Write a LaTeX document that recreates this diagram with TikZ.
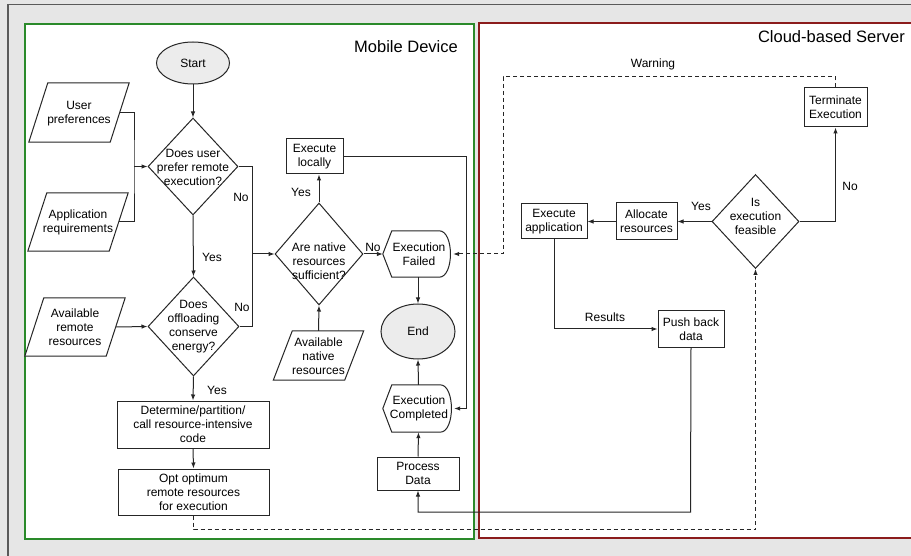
\documentclass[tikz,border=0pt]{standalone}
\usepackage{fontspec}
\setmainfont{Liberation Sans}
\usetikzlibrary{shapes.geometric,arrows.meta,calc}

\definecolor{panelgrey}{HTML}{E6E6E6}
\definecolor{framegrey}{HTML}{5A5A5A}
\definecolor{mobilegreen}{HTML}{2A8A2A}
\definecolor{serverred}{HTML}{8B1C1C}
\definecolor{ink}{HTML}{262626}
\definecolor{termfill}{HTML}{ECECEC}

\tikzset{
  txt/.style={font=\fontsize{12}{14}\selectfont, text=black, align=center, inner sep=0pt},
  boxnode/.style={txt, draw=ink, line width=1pt, fill=white},
  terminal/.style={txt, ellipse, draw=ink, line width=1pt, fill=termfill},
  decision/.style={diamond, draw=ink, line width=1pt, fill=white, inner sep=0pt},
  frame/.style={txt, inner sep=0pt},
  outline/.style={draw=ink, line width=1pt, fill=white},
  flow/.style={draw=ink, line width=1pt, -{Latex[length=6pt,width=4.5pt]}},
  link/.style={draw=ink, line width=1pt},
  lbl/.style={font=\fontsize{12}{14}\selectfont, text=black, inner sep=0pt},
  title/.style={font=\fontsize{16.5}{19}\selectfont, text=black, inner sep=0pt, anchor=east},
}

% input/output data: slanted parallelogram drawn around a frame node
% #1 name, #2 centre, #3 text shift, #4 width, #5 height, #6 text
\newcommand\dataio[6]{%
  \node[frame, minimum width=#4, minimum height=#5] (#1) at (#2) {};
  \draw[outline] ($(#1.north west)+(19,0)$) -- (#1.north east)
     -- ($(#1.south east)+(-19,0)$) -- (#1.south west) -- cycle;
  \node[txt] (#1t) at ($(#1)+(0,#3)$) {#6};}

% display shape: pointed left side, rounded right side
\newcommand\displayshape[4]{%
  \node[frame, minimum width=#3, minimum height=#4] (#1) at (#2) {};
  \draw[outline] (#1.west) -- ($(#1.north west)+(9,0)$) -- ($(#1.north east)+(-14,0)$)
     .. controls ($(#1.north east)+(1,0)$) and ($(#1.south east)+(1,0)$) .. ($(#1.south east)+(-14,0)$)
     -- ($(#1.south west)+(9,0)$) -- cycle;}

\begin{document}
\begin{tikzpicture}[x=1pt,y=-1pt]
\useasboundingbox (0,0) rectangle (911,556);

% outer panel
\fill[panelgrey] (0,0) rectangle (911,556);
\draw[framegrey, line width=1.4pt] (8,556) -- (8,4.5) -- (911,4.5);

% swimlanes
\draw[mobilegreen, line width=1.3pt, fill=white] (25,24) rectangle (474,539);
\draw[serverred, line width=1.3pt, fill=white] (479,23) rectangle (920,538);
\node[title] (mobtitle) at (458,47) {Mobile Device};
\node[title] (srvtitle) at (905,37) {Cloud-based Server};

% ---------------- mobile device ----------------
\node[terminal, minimum width=73pt, minimum height=42pt] (start) at (193,63) {Start};

\node[decision, minimum width=90pt, minimum height=97pt] (d1) at (193,166.5) {};
\node[txt] (d1t) at (193,167) {Does user\\prefer remote\\execution?};

\dataio{up}{79,112.5}{1}{100pt}{59pt}{User\\preferences}
\dataio{app}{78,222}{0}{100pt}{58pt}{Application\\requirements}

\node[decision, minimum width=91pt, minimum height=99pt] (d2) at (193.5,326.5) {};
\node[txt] (d2t) at (193.5,327) {Does\\offloading\\conserve\\energy?};

\dataio{rem}{75,327}{0}{100pt}{58pt}{Available\\remote\\resources}

\node[boxnode, minimum width=152pt, minimum height=47pt] (det) at (193,424.5) {Determine/partition/\\call resource-intensive\\code};
\node[boxnode, minimum width=151pt, minimum height=46pt] (opt) at (193.5,492) {Opt optimum\\remote resources\\for execution};

\node[decision, minimum width=88pt, minimum height=102pt] (d3) at (319,254) {};
\node[txt] (d3t) at (319,261) {Are native\\resources\\sufficient?};

\node[boxnode, minimum width=57pt, minimum height=35pt] (exloc) at (314.5,156.5) {Execute\\locally};

\dataio{nat}{318.5,355.5}{1}{90pt}{49pt}{Available\\native\\resources}

\displayshape{fail}{418,254}{70pt}{46pt}
\node[txt] (failt) at (419,254) {Execution\\Failed};

\node[terminal, minimum width=74pt, minimum height=55pt] (end) at (418,331.5) {End};

\displayshape{comp}{418.5,408.5}{71pt}{47pt}
\node[txt] (compt) at (419,408.5) {Execution\\Completed};

\node[boxnode, minimum width=82pt, minimum height=33pt] (procd) at (418,473.5) {Process\\Data};

% ---------------- cloud server ----------------
\node[boxnode, minimum width=63pt, minimum height=39pt] (term) at (835.5,107.5) {Terminate\\Execution};

\node[decision, minimum width=87pt, minimum height=94pt] (d4) at (755.5,221.5) {};
\node[txt] (d4t) at (755.5,216) {Is\\execution\\feasible};

\node[boxnode, minimum width=61pt, minimum height=37pt] (alloc) at (646.5,221.5) {Allocate\\resources};
\node[boxnode, minimum width=66pt, minimum height=35pt] (exapp) at (554,221.5) {Execute\\application};
\node[boxnode, minimum width=66pt, minimum height=36pt] (push) at (691,329) {Push back\\data};

% junction points
\coordinate (merge) at (134,166.5);
\coordinate (nojoin) at (252,254);
\coordinate (pushturn) at (690.5,512);
\coordinate (warnturn) at (503,77);
\coordinate (upout) at ($(up.east)+(-9,0)$);
\coordinate (appout) at ($(app.east)+(-9,0)$);
\coordinate (remout) at ($(rem.east)+(-9,0)$);

% ---------------- connectors ----------------
\draw[flow] (start) -- (d1.north);
\draw[link] (upout) -| (merge) |- (appout);
\draw[flow] (merge) -- (d1.west);
\draw[flow] (d1.east) -| (nojoin) -- (d3.west);
\draw[link] (d2.east) -| (nojoin);
\draw[flow] (d1.south) -- (d2.north);
\draw[flow] (remout) -- (d2.west);
\draw[flow] (d2.south) -- (det.north);
\draw[flow] (det.south) -- (opt.north);
\draw[flow, dashed, dash pattern=on 4pt off 3pt] (opt.south) -- ++(0,14) -| (d4.south);

\draw[flow] (d3.north) -- (d3.north |- exloc.south);
\draw[flow] (nat.north) -- (d3.south);
\draw[flow] (d3.east) -- (fail.west);
\draw[flow] (exloc.east) -| ($(comp.east)+(12,0)$) -- (comp.east);
\draw[flow] (fail.south) -- (end.north);
\draw[flow] (comp.north) -- (end.south);
\draw[flow] (procd.north) -- (comp.south);
\draw[flow] (push.south) -- (pushturn) -| (procd.south);

\draw[flow, dashed, dash pattern=on 4pt off 3pt] (term.north) |- (warnturn) -- (warnturn |- fail.east) -- (fail.east);
\draw[flow] (d4.east) -| (term.south);
\draw[flow] (d4.west) -- (alloc.east);
\draw[flow] (alloc.west) -- (exapp.east);
\draw[flow] (exapp.south) |- (push.west);

% ---------------- labels ----------------
\node[lbl] (l1) at (241,197) {No};
\node[lbl] (l2) at (242,307) {No};
\node[lbl] (l3) at (212,257) {Yes};
\node[lbl] (l4) at (217,390) {Yes};
\node[lbl] (l5) at (301,192) {Yes};
\node[lbl] (l6) at (373,247) {No};
\node[lbl] (l7) at (653,64) {Warning};
\node[lbl] (l8) at (850,186) {No};
\node[lbl] (l9) at (701,206) {Yes};
\node[lbl] (l10) at (605,317) {Results};
\end{tikzpicture}
\end{document}
